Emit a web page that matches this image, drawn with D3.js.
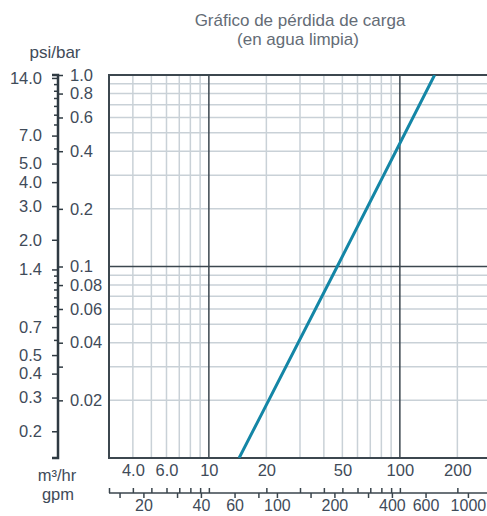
<!DOCTYPE html>
<html>
<head>
<meta charset="utf-8">
<script src="https://cdn.jsdelivr.net/npm/d3@7"></script>
<style>
  body { margin: 0; background: #fff; }
  svg { display: block; font-family: "Liberation Sans", Arial, sans-serif; }
  .tick text { fill: #3f4b59; font-size: 16.5px; }
  .gpm .tick text { font-size: 16px; }
</style>
</head>
<body>
<div id="chart"></div>
<script>
// Pressure loss curve (bar vs m3/hr)
const flowM3 = [14.4, 47, 152]
const lossBar = [0.01, 0.1, 1.0]

// Tick values
const m3Labels = [4, 6, 10, 20, 50, 100, 200]
const m3TickLabels = ["4.0", "6.0", "10", "20", "50", "100", "200"]
const m3Minor = [3, 4, 5, 6, 7, 8, 9, 20, 30, 40, 50, 60, 70, 80, 90, 200]
const m3Major = [10, 100]
const gpmTicks = [15, 20, 30, 40, 60, 80, 100, 150, 200, 300, 400, 600, 1000]
const gpmLabels = [20, 40, 60, 100, 200, 400, 600, 1000]
const barLabels = [1.0, 0.8, 0.6, 0.4, 0.2, 0.1, 0.08, 0.06, 0.04, 0.02]
const barTickLabels = ["1.0", "0.8", "0.6", "0.4", "0.2", "0.1", "0.08", "0.06", "0.04", "0.02"]
const barMinorTicks = [0.03]
const barGridMinor = [0.02, 0.03, 0.04, 0.05, 0.06, 0.07, 0.08, 0.09, 0.2, 0.3, 0.4, 0.5, 0.6, 0.7, 0.8, 0.9]
const barGridMajor = [0.1]
const psiLabels = [14, 7, 5, 4, 3, 2, 1.4, 0.7, 0.5, 0.4, 0.3, 0.2]
const psiMinor = [13, 12, 11, 10, 9, 8, 6, 1.3, 1.2, 1.1, 1.0, 0.9, 0.8, 0.6]

const PSI_PER_BAR = 14.5038
const GPM_PER_M3 = 4.40287

const width = 487
const height = 516
const plot = { left: 109, top: 75, bottom: 458, right: 491 }

const svg = d3.select("#chart").append("svg")
    .attr("width", width)
    .attr("height", height)

// Scales
const x = d3.scaleLog().domain([3, 300]).range([plot.left, plot.right])
const xGpm = d3.scaleLog()
    .domain([3 * GPM_PER_M3, 300 * GPM_PER_M3])
    .range([plot.left, plot.right])
const y = d3.scaleLog().domain([0.01, 1]).range([plot.bottom, plot.top])
const yPsi = d3.scaleLog()
    .domain([0.01 * PSI_PER_BAR, PSI_PER_BAR])
    .range([plot.bottom, plot.top])

// Title
svg.append("text")
    .attr("x", 300).attr("y", 26)
    .attr("text-anchor", "middle")
    .attr("fill", "#646c76")
    .style("font-size", "17px")
    .text("Gráfico de pérdida de carga")
svg.append("text")
    .attr("x", 298).attr("y", 45)
    .attr("text-anchor", "middle")
    .attr("fill", "#646c76")
    .style("font-size", "17px")
    .text("(en agua limpia)")

// Grid
const grid = svg.append("g")
grid.selectAll(".v-minor").data(m3Minor).join("line")
    .attr("x1", d => x(d)).attr("x2", d => x(d))
    .attr("y1", plot.top).attr("y2", plot.bottom)
    .attr("stroke", "#c9d1d7").attr("stroke-width", 1.5)
grid.selectAll(".h-minor").data(barGridMinor).join("line")
    .attr("x1", plot.left).attr("x2", width)
    .attr("y1", d => y(d)).attr("y2", d => y(d))
    .attr("stroke", "#c9d1d7").attr("stroke-width", 1.5)
grid.selectAll(".v-major").data(m3Major).join("line")
    .attr("x1", d => x(d)).attr("x2", d => x(d))
    .attr("y1", plot.top).attr("y2", plot.bottom)
    .attr("stroke", "#3c474f").attr("stroke-width", 1.5)
grid.selectAll(".h-major").data(barGridMajor).join("line")
    .attr("x1", plot.left).attr("x2", width)
    .attr("y1", d => y(d)).attr("y2", d => y(d))
    .attr("stroke", "#3c474f").attr("stroke-width", 1.5)

// Plot border (right side runs off the picture)
svg.append("path")
    .attr("d", `M${width},${plot.top}H${plot.left}V${plot.bottom}H${width}`)
    .attr("fill", "none")
    .attr("stroke", "#3c474f")
    .attr("stroke-width", 2)

// Loss curve
svg.append("clipPath").attr("id", "clip")
  .append("rect")
    .attr("x", plot.left).attr("y", plot.top)
    .attr("width", width - plot.left).attr("height", plot.bottom - plot.top)

const curve = flowM3.map((q, i) => [q, lossBar[i]])
svg.append("path")
    .datum(curve)
    .attr("clip-path", "url(#clip)")
    .attr("fill", "none")
    .attr("stroke", "#1486a6")
    .attr("stroke-width", 3)
    .attr("d", d3.line().x(d => x(d[0])).y(d => y(d[1])))

// Left axes: psi (ticks to the left) and bar (ticks to the right)
const axisX = 58
const barAxis = svg.append("g")
    .attr("transform", `translate(${axisX},0)`)
    .call(d3.axisRight(y)
      .tickValues(barLabels)
      .tickFormat((d, i) => barTickLabels[i])
      .tickSize(5).tickPadding(7))
barAxis.select(".domain").remove()
barAxis.selectAll(".tick line").attr("stroke", "#2f3a42").attr("stroke-width", 1.5)

svg.append("g")
    .attr("transform", `translate(${axisX},0)`)
    .call(d3.axisRight(y).tickValues(barMinorTicks).tickFormat("").tickSize(5))
    .call(g => g.select(".domain").remove())
    .selectAll(".tick line").attr("stroke", "#2f3a42").attr("stroke-width", 1.5)

const psiAxis = svg.append("g")
    .attr("transform", `translate(${axisX},0)`)
    .call(d3.axisLeft(yPsi)
      .tickValues(psiLabels)
      .tickFormat(d3.format(".1f"))
      .tickSize(6).tickPadding(10))
psiAxis.select(".domain").remove()
psiAxis.selectAll(".tick line").attr("stroke", "#2f3a42").attr("stroke-width", 1.5)

svg.append("g")
    .attr("transform", `translate(${axisX},0)`)
    .call(d3.axisLeft(yPsi).tickValues(psiMinor).tickFormat("").tickSize(4))
    .call(g => g.select(".domain").remove())
    .selectAll(".tick line").attr("stroke", "#2f3a42").attr("stroke-width", 1.5)

// Axis spine with its bottom hook
svg.append("path")
    .attr("d", `M${axisX - 6},${plot.top}H${axisX}V${plot.bottom}H${axisX - 6}`)
    .attr("fill", "none")
    .attr("stroke", "#2f3a42")
    .attr("stroke-width", 2.5)

svg.append("text")
    .attr("x", 55).attr("y", 58)
    .attr("text-anchor", "middle")
    .attr("fill", "#3f4b59")
    .style("font-size", "17px")
    .text("psi/bar")

// Bottom: m3/hr labels under the plot
const m3Axis = svg.append("g")
    .attr("transform", `translate(0,${plot.bottom + 6})`)
    .call(d3.axisBottom(x)
      .tickValues(m3Labels)
      .tickFormat((d, i) => m3TickLabels[i])
      .tickSize(0).tickPadding(0))
m3Axis.select(".domain").remove()
m3Axis.selectAll(".tick text").attr("dy", "0.71em")

// gpm scale line: m3/hr ticks up, gpm ticks down
const gpmY = 493
svg.append("g")
    .attr("transform", `translate(0,${gpmY})`)
    .call(d3.axisTop(x).tickValues(m3Minor.concat(m3Major)).tickFormat("").tickSize(5))
    .call(g => g.select(".domain").remove())
    .selectAll(".tick line").attr("stroke", "#3a454d").attr("stroke-width", 1.5)

const gpmAxis = svg.append("g")
    .attr("class", "gpm")
    .attr("transform", `translate(0,${gpmY})`)
    .call(d3.axisBottom(xGpm)
      .tickValues(gpmTicks)
      .tickFormat(d => gpmLabels.includes(d) ? d : "")
      .tickSize(5).tickPadding(2))
gpmAxis.select(".domain").remove()
gpmAxis.selectAll(".tick line").attr("stroke", "#3a454d").attr("stroke-width", 1.5)

svg.append("line")
    .attr("x1", plot.left).attr("x2", width)
    .attr("y1", gpmY).attr("y2", gpmY)
    .attr("stroke", "#3a454d").attr("stroke-width", 1.5)

svg.append("text")
    .attr("x", 57).attr("y", 481)
    .attr("text-anchor", "middle")
    .attr("fill", "#3f4b59")
    .style("font-size", "16.5px")
    .text("m³/hr")
svg.append("text")
    .attr("x", 58).attr("y", 500)
    .attr("text-anchor", "middle")
    .attr("fill", "#3f4b59")
    .style("font-size", "16.5px")
    .text("gpm")
</script>
</body>
</html>
